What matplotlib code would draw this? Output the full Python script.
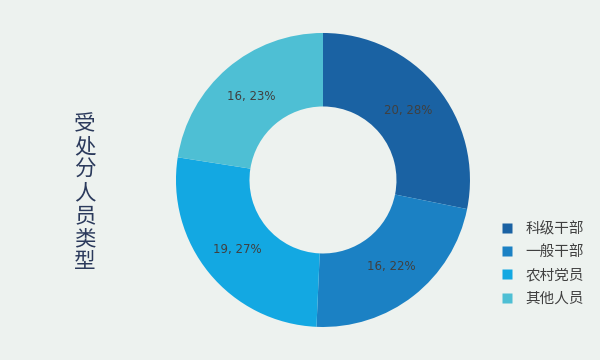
import matplotlib
matplotlib.use("Agg")
import matplotlib.pyplot as plt
from matplotlib.lines import Line2D

plt.rcParams['font.family'] = ['Noto Sans CJK SC', 'DejaVu Sans']

categories = ['科级干部', '一般干部', '农村党员', '其他人员']
counts = [20, 16, 19, 16]
percents = [28, 22, 27, 23]
colors = ['#1a62a3', '#1b81c4', '#13a8e2', '#4ebfd4']
title = '受处分人员类型'

bg = '#edf2ef'
fig = plt.figure(figsize=(6, 3.6), dpi=100, facecolor=bg)

ax = fig.add_axes([0.2933, 0.0917, 0.49, 0.8167])
ax.set_facecolor(bg)
labels = [f'{c}, {p}%' for c, p in zip(counts, percents)]
wedges, texts = ax.pie(counts, colors=colors, startangle=90, counterclock=False,
                       radius=1.0, labels=labels, labeldistance=0.75,
                       wedgeprops=dict(width=0.5, edgecolor='none'),
                       textprops=dict(fontsize=8.5, color='#404040', family=['DejaVu Sans']))
for t in texts:
    t.set_ha('center')
    t.set_va('center')
ax.set_xlim(-1, 1)
ax.set_ylim(-1, 1)
ax.axis('off')

fig.text(85 / 600, 1 - 193 / 360, '\n'.join(title), ha='center', va='center',
         fontsize=15.5, color='#2b3a5c', linespacing=1.06)

handles = [Line2D([], [], marker='s', linestyle='none', markersize=6.5,
                  markerfacecolor=c, markeredgecolor='none') for c in colors]
fig.legend(handles, categories, loc='upper left', bbox_to_anchor=(500 / 600, 1 - 222 / 360),
           frameon=False, fontsize=10.5, labelcolor='#404040', handlelength=1.0,
           handletextpad=0.75, labelspacing=0.62, borderpad=0, borderaxespad=0)

fig.savefig('out.png', dpi=100, facecolor=bg)
